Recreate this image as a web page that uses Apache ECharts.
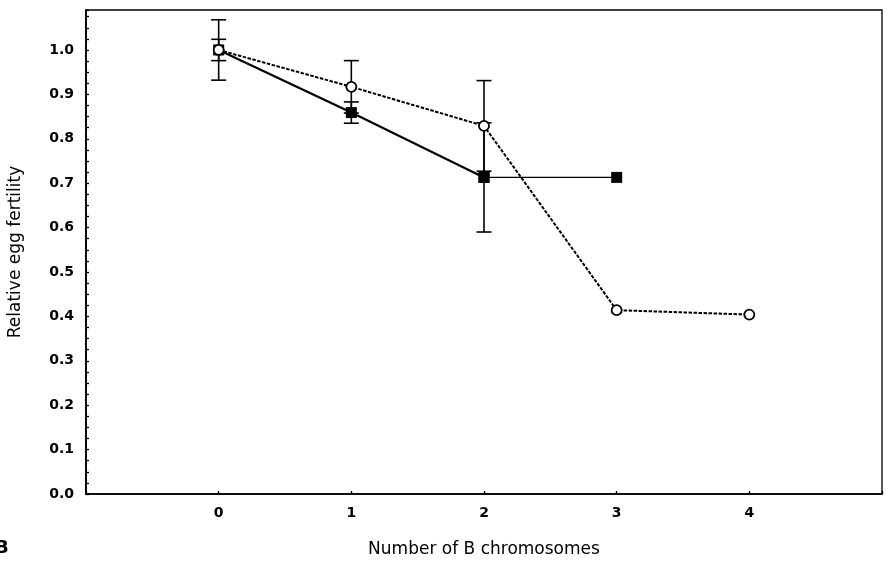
<!DOCTYPE html>
<html>
<head>
<meta charset="utf-8">
<script src="https://cdn.jsdelivr.net/npm/echarts@6/dist/echarts.min.js"></script>
<style>html,body{margin:0;padding:0;background:#fff}#c{width:890px;height:561px}</style>
</head>
<body>
<div id="c"></div>
<script>
// ---- data ----
const xValues = [0, 1, 2, 3, 4];
const xTickLabels = ['0', '1', '2', '3', '4'];
const yTickLabels = ['0.0','0.1','0.2','0.3','0.4','0.5','0.6','0.7','0.8','0.9','1.0'];
const squareMean = [1.0, 0.859, 0.713, 0.713];
const squareErr  = [0.024, 0.024, 0.123, null];
const circleMean = [1.0, 0.917, 0.829, 0.414, 0.404];
const circleErr  = [0.068, 0.059, 0.102, null, null];
const xTitle = 'Number of B chromosomes';
const yTitle = 'Relative egg fertility';
const panelLabel = 'B';

const FONT = 'DejaVu Sans';
const pts = (means) => means.map((v, i) => [xValues[i], v]);
const errData = (means, errs) => means
  .map((v, i) => errs[i] == null ? null : [xValues[i], v - errs[i], v + errs[i]])
  .filter(d => d);

function errRender(params, api) {
  const x = api.value(0);
  const lo = api.coord([x, api.value(1)]);
  const hi = api.coord([x, api.value(2)]);
  const hw = 7.5;
  const st = { stroke: '#000', lineWidth: 1.6 };
  return {
    type: 'group',
    children: [
      { type: 'line', shape: { x1: lo[0], y1: lo[1], x2: hi[0], y2: hi[1] }, style: st },
      { type: 'line', shape: { x1: lo[0] - hw, y1: lo[1], x2: lo[0] + hw, y2: lo[1] }, style: st },
      { type: 'line', shape: { x1: hi[0] - hw, y1: hi[1], x2: hi[0] + hw, y2: hi[1] }, style: st }
    ]
  };
}

const sq = pts(squareMean);
const ci = pts(circleMean);

const chart = echarts.init(document.getElementById('c'));
chart.setOption({
  animation: false,
  backgroundColor: '#fff',
  grid: { left: 86, top: 10, right: 8, bottom: 67, show: true, borderColor: '#000', borderWidth: 1.3, containLabel: false, outerBoundsMode: 'none' },
  graphic: [{
    type: 'text', x: -5, y: 539,
    style: { text: panelLabel, font: 'bold 18px ' + FONT, fill: '#000', textVerticalAlign: 'top' }
  }],
  xAxis: {
    type: 'value', min: -1, max: 5, interval: 1,
    name: xTitle, nameLocation: 'middle', nameGap: 47,
    nameTextStyle: { fontFamily: FONT, fontSize: 17, color: '#000' },
    axisLine: { show: true, onZero: false, lineStyle: { color: '#000', width: 1.6 } },
    axisTick: { show: true, inside: true, length: 3, lineStyle: { color: '#000', width: 1.3 } },
    axisLabel: {
      margin: 12, fontFamily: FONT, fontSize: 14, fontWeight: 'bold', color: '#000',
      formatter: (v) => { const i = xValues.indexOf(v); return i >= 0 ? xTickLabels[i] : ''; }
    },
    splitLine: { show: false }
  },
  yAxis: {
    type: 'value', min: 0, max: 1.09, interval: 0.1,
    name: yTitle, nameLocation: 'middle', nameGap: 62,
    nameTextStyle: { fontFamily: FONT, fontSize: 17, color: '#000' },
    axisLine: { show: true, onZero: false, lineStyle: { color: '#000', width: 1.8 } },
    axisTick: { show: true, inside: true, length: 3, lineStyle: { color: '#000', width: 1.3 } },
    minorTick: { show: true, splitNumber: 4, length: 3, lineStyle: { color: '#000', width: 1.3 } },
    axisLabel: {
      margin: 12, fontFamily: FONT, fontSize: 14, fontWeight: 'bold', color: '#000',
      formatter: (v) => { const i = Math.round(v * 10); return Math.abs(v * 10 - i) < 1e-6 && yTickLabels[i] ? yTickLabels[i] : ''; }
    },
    splitLine: { show: false }
  },
  series: [
    { type: 'custom', name: 'sqErr', renderItem: errRender, data: errData(squareMean, squareErr), encode: { x: 0, y: [1, 2] }, z: 1, silent: true },
    { type: 'custom', name: 'ciErr', renderItem: errRender, data: errData(circleMean, circleErr), encode: { x: 0, y: [1, 2] }, z: 1, silent: true },
    {
      type: 'line', name: 'squares', data: sq.slice(0, 3), z: 3,
      lineStyle: { color: '#000', width: 2.2 },
      symbol: 'rect', symbolSize: 11, itemStyle: { color: '#000', borderWidth: 0 }, showSymbol: true
    },
    {
      type: 'line', name: 'squares tail', data: sq.slice(2), z: 3,
      lineStyle: { color: '#000', width: 1.4 },
      symbol: 'rect', symbolSize: 11, itemStyle: { color: '#000', borderWidth: 0 }, showSymbol: true
    },
    {
      type: 'line', name: 'circles', data: ci, z: 4,
      lineStyle: { color: '#000', width: 2, type: [3.5, 1.5] },
      symbol: 'circle', symbolSize: 10, itemStyle: { color: '#fff', borderColor: '#000', borderWidth: 1.8 }, showSymbol: true
    }
  ]
});
</script>
</body>
</html>
